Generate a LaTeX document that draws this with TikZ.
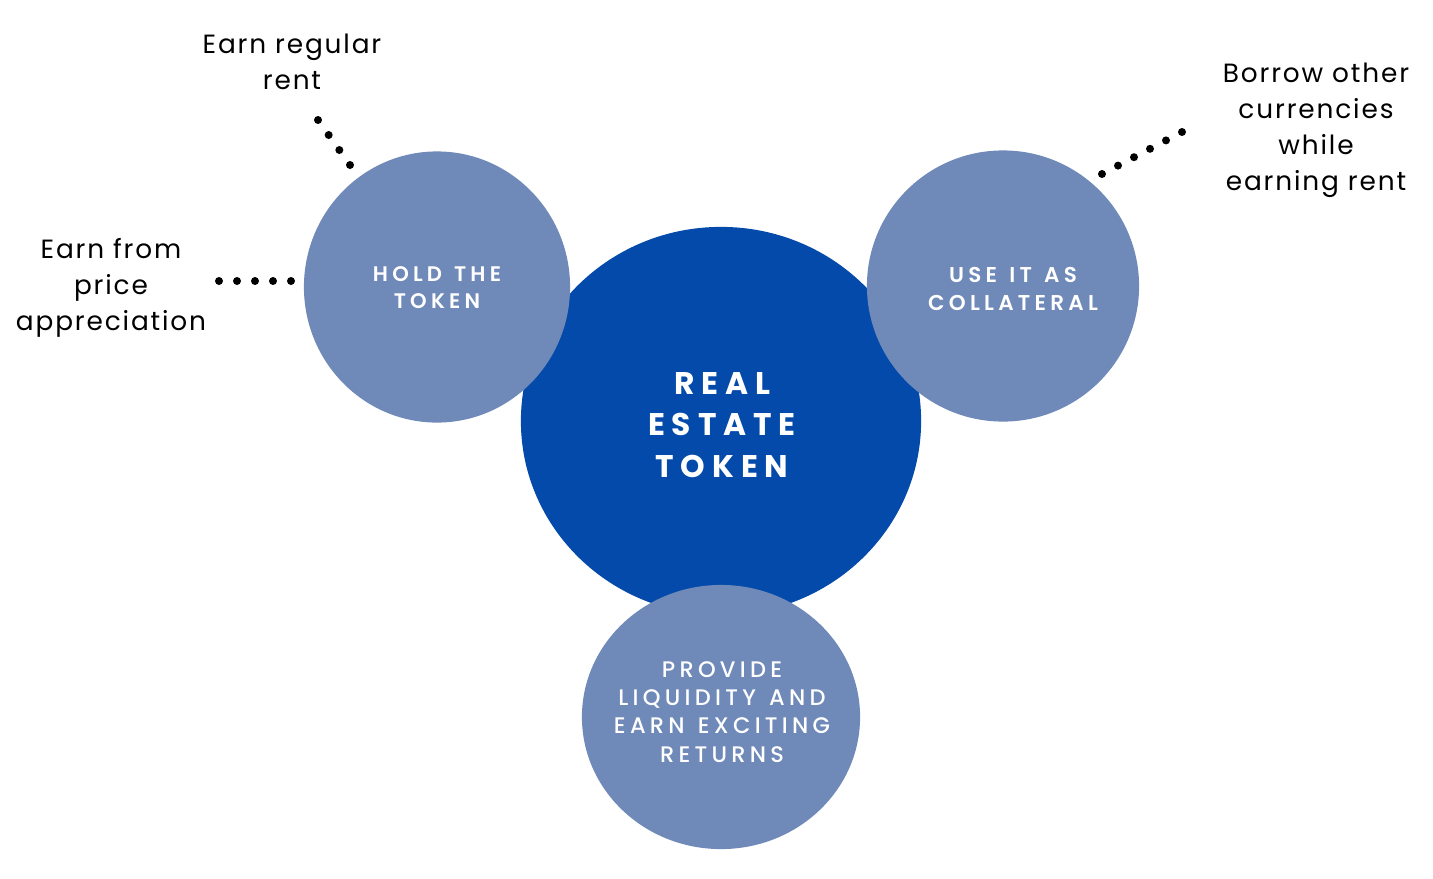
\documentclass[tikz,border=0pt]{standalone}
\usepackage{fontspec}
\setmainfont{Poppins}
\newfontfamily\notefont[LetterSpace=7]{Poppins}
\newfontfamily\capsfont[LetterSpace=20, WordSpace=1.3, BoldFont={Poppins SemiBold}]{Poppins}
\newfontfamily\plainfont[LetterSpace=19, WordSpace=1.3]{Poppins Medium}
\newfontfamily\headfont[LetterSpace=22, WordSpace=1.3]{Poppins}
\usetikzlibrary{calc,shapes.geometric}
\definecolor{tokenblue}{RGB}{3,74,170}
\definecolor{useblue}{RGB}{111,137,184}

\tikzset{
  bubble/.style={ellipse, fill=useblue, inner sep=0pt},
  note/.style={align=center, text=black, font=\notefont\fontsize{7.5}{10.25}\selectfont},
  caps/.style={align=center, text=white, font=\capsfont\bfseries\fontsize{6}{7.7}\selectfont},
  dot/.style={fill=black},
}

\begin{document}
\begin{tikzpicture}[x=0.01cm, y=-0.01cm]
\useasboundingbox (0,0) rectangle (1433,878);

\node[ellipse, fill=tokenblue, minimum width=4cm, minimum height=3.88cm] (token) at (721,421) {};
\node[align=center, text=white, font=\headfont\bfseries\fontsize{8.9}{11.7}\selectfont] (tokentext) at (722,425) {REAL\\ESTATE\\TOKEN};

\node[bubble, minimum width=2.66cm, minimum height=2.71cm] (hold) at (437,287) {};
\node[bubble, minimum width=2.72cm, minimum height=2.71cm] (collat) at (1003,286) {};
\node[bubble, minimum width=2.78cm, minimum height=2.64cm] (provide) at (721,717) {};

\node[caps] (holdtext) at (437,288) {HOLD THE\\TOKEN};
\node[caps, font=\capsfont\bfseries\fontsize{6.1}{8}\selectfont] (collattext) at (1013,289) {USE IT AS\\COLLATERAL};
\node[caps, font=\plainfont\fontsize{6.4}{8}\selectfont] (providetext) at (722,712) {PROVIDE\\LIQUIDITY AND\\EARN EXCITING\\RETURNS};

\node[note] (rent) at (292,62) {Earn regular\\rent};
\node[note] (price) at (111,288) {Earn from\\price\\appreciation};
\node[note] (borrow) at (1316,130) {Borrow other\\currencies\\while\\earning rent};

% dotted leaders
\coordinate (r1) at (318,120);
\coordinate (r2) at (350,165);
\coordinate (p1) at (219,281);
\coordinate (p2) at (291,281);
\coordinate (b1) at (1102,174);
\coordinate (b2) at (1182,132);

\foreach \t in {0,1/3,2/3,1}
  \fill[dot] ($(r1)!\t!(r2)$) circle [radius=4];
\foreach \t in {0,0.25,0.5,0.75,1}
  \fill[dot] ($(p1)!\t!(p2)$) circle [radius=4];
\foreach \t in {0,0.2,0.4,0.6,0.8,1}
  \fill[dot] ($(b1)!\t!(b2)$) circle [radius=4];

\end{tikzpicture}
\end{document}
